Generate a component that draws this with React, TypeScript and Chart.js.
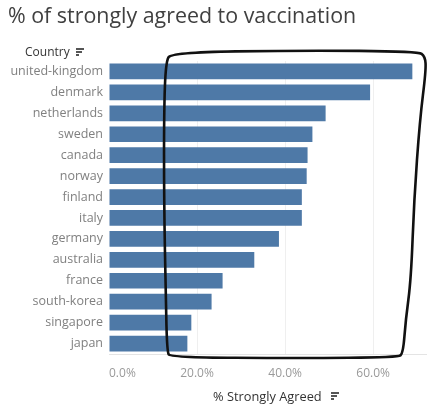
import { useEffect, useRef } from "react";
import { Chart, registerables } from "chart.js";

Chart.register(...registerables);

const countries = [
  "united-kingdom",
  "denmark",
  "netherlands",
  "sweden",
  "canada",
  "norway",
  "finland",
  "italy",
  "germany",
  "australia",
  "france",
  "south-korea",
  "singapore",
  "japan",
];
const strongPct = [68.9, 59.3, 49.2, 46.2, 45.1, 44.9, 43.8, 43.8, 38.6, 33.0, 25.8, 23.3, 18.7, 17.8];
const xTicks = [0, 20, 40, 60];
const xMax = 72;

// hand-drawn loop around the bars, in [% value, category index]
const loopPoints: [number, number][] = [
  [14.1, -0.91],
  [12.9, -0.44],
  [12.5, 1.85],
  [12.5, 6.13],
  [12.9, 10.9],
  [13.2, 13.37],
  [13.9, 13.66],
  [43.4, 13.7],
  [65.6, 13.66],
  [66.8, 13.47],
  [67.4, 11.85],
  [68.6, 9.94],
  [69.3, 6.13],
  [70.6, 2.32],
  [72.0, -0.06],
  [71.8, -0.72],
  [70.2, -0.96],
  [43.4, -1.01],
];

const loopPlugin = {
  id: "handLoop",
  afterDraw(chart: any) {
    const { ctx, scales } = chart;
    const pts = loopPoints.map(([v, i]) => [scales.x.getPixelForValue(v), scales.y.getPixelForValue(i)]);
    const n = pts.length;
    const mid = (a: number[], b: number[]) => [(a[0] + b[0]) / 2, (a[1] + b[1]) / 2];
    ctx.save();
    ctx.beginPath();
    const start = mid(pts[n - 1], pts[0]);
    ctx.moveTo(start[0], start[1]);
    for (let k = 0; k < n; k++) {
      const m = mid(pts[k], pts[(k + 1) % n]);
      ctx.quadraticCurveTo(pts[k][0], pts[k][1], m[0], m[1]);
    }
    ctx.closePath();
    ctx.lineWidth = 2.6;
    ctx.strokeStyle = "#111";
    ctx.lineJoin = "round";
    ctx.stroke();
    ctx.restore();
  },
};

function SortIcon({ left, top }: { left: number; top: number }) {
  const widths = [8, 6, 3];
  return (
    <div style={{ position: "absolute", left, top, width: 8, height: 8 }}>
      {widths.map((w, i) => (
        <div
          key={i}
          style={{ position: "absolute", left: 0, top: i * 3, width: w, height: 1.6, background: "#555" }}
        />
      ))}
    </div>
  );
}

export default function App() {
  const canvasRef = useRef<HTMLCanvasElement>(null);

  useEffect(() => {
    if (!canvasRef.current) return;
    const chart = new Chart(canvasRef.current, {
      type: "bar",
      data: {
        labels: countries,
        datasets: [
          {
            label: "% Strongly Agreed",
            data: strongPct,
            backgroundColor: "#4e79a7",
            borderWidth: 0,
            barPercentage: 0.75,
            categoryPercentage: 1,
          },
        ],
      },
      options: {
        indexAxis: "y",
        animation: false,
        responsive: false,
        layout: { padding: { top: 61, right: 4, left: 0, bottom: 0 } },
        plugins: {
          legend: { display: false },
          tooltip: { enabled: false },
        },
        scales: {
          x: {
            min: 0,
            max: xMax,
            afterFit: (scale: any) => {
              scale.height = 52;
              scale.paddingLeft = 0;
              scale.paddingRight = 0;
            },
            afterBuildTicks: (scale: any) => {
              scale.ticks = [...xTicks, xMax].map((v) => ({ value: v }));
            },
            grid: {
              drawTicks: false,
              color: (c: any) =>
                c.tick && (c.tick.value === 0 || c.tick.value === xMax) ? "rgba(0,0,0,0)" : "#efefef",
            },
            border: { display: true, color: "#e4e4e4" },
            ticks: {
              align: "inner",
              autoSkip: false,
              maxRotation: 0,
              padding: 12,
              color: "#9a9a9a",
              font: { family: "Open Sans", size: 12 },
              callback: (v: any) => (v === xMax ? "" : Number(v).toFixed(1) + "%"),
            },
          },
          y: {
            afterFit: (scale: any) => {
              scale.width = 109;
            },
            grid: { display: false, drawTicks: false },
            border: { display: false },
            ticks: {
              padding: 6,
              color: "#808080",
              font: { family: "Open Sans", size: 12.5 },
            },
          },
        },
      },
      plugins: [loopPlugin],
    } as any);
    return () => {
      chart.destroy();
    };
  }, []);

  return (
    <div
      style={{
        position: "absolute",
        left: 0,
        top: 0,
        width: 430,
        height: 406,
        background: "#fff",
        fontFamily: "Open Sans",
        overflow: "hidden",
      }}
    >
      <canvas ref={canvasRef} width={430} height={406} style={{ position: "absolute", left: 0, top: 0 }} />
      <div
        style={{
          position: "absolute",
          left: 8,
          top: 0,
          fontSize: 21.4,
          lineHeight: "29px",
          color: "#404040",
          whiteSpace: "nowrap",
        }}
      >
        % of strongly agreed to vaccination
      </div>
      <div style={{ position: "absolute", left: 25, top: 44, fontSize: 12, lineHeight: "16px", color: "#333" }}>
        Country
      </div>
      <SortIcon left={76} top={48} />
      <div
        style={{
          position: "absolute",
          left: 213,
          top: 388,
          fontSize: 12.8,
          lineHeight: "16px",
          color: "#333",
          whiteSpace: "nowrap",
        }}
      >
        % Strongly Agreed
      </div>
      <SortIcon left={331} top={392} />
    </div>
  );
}
